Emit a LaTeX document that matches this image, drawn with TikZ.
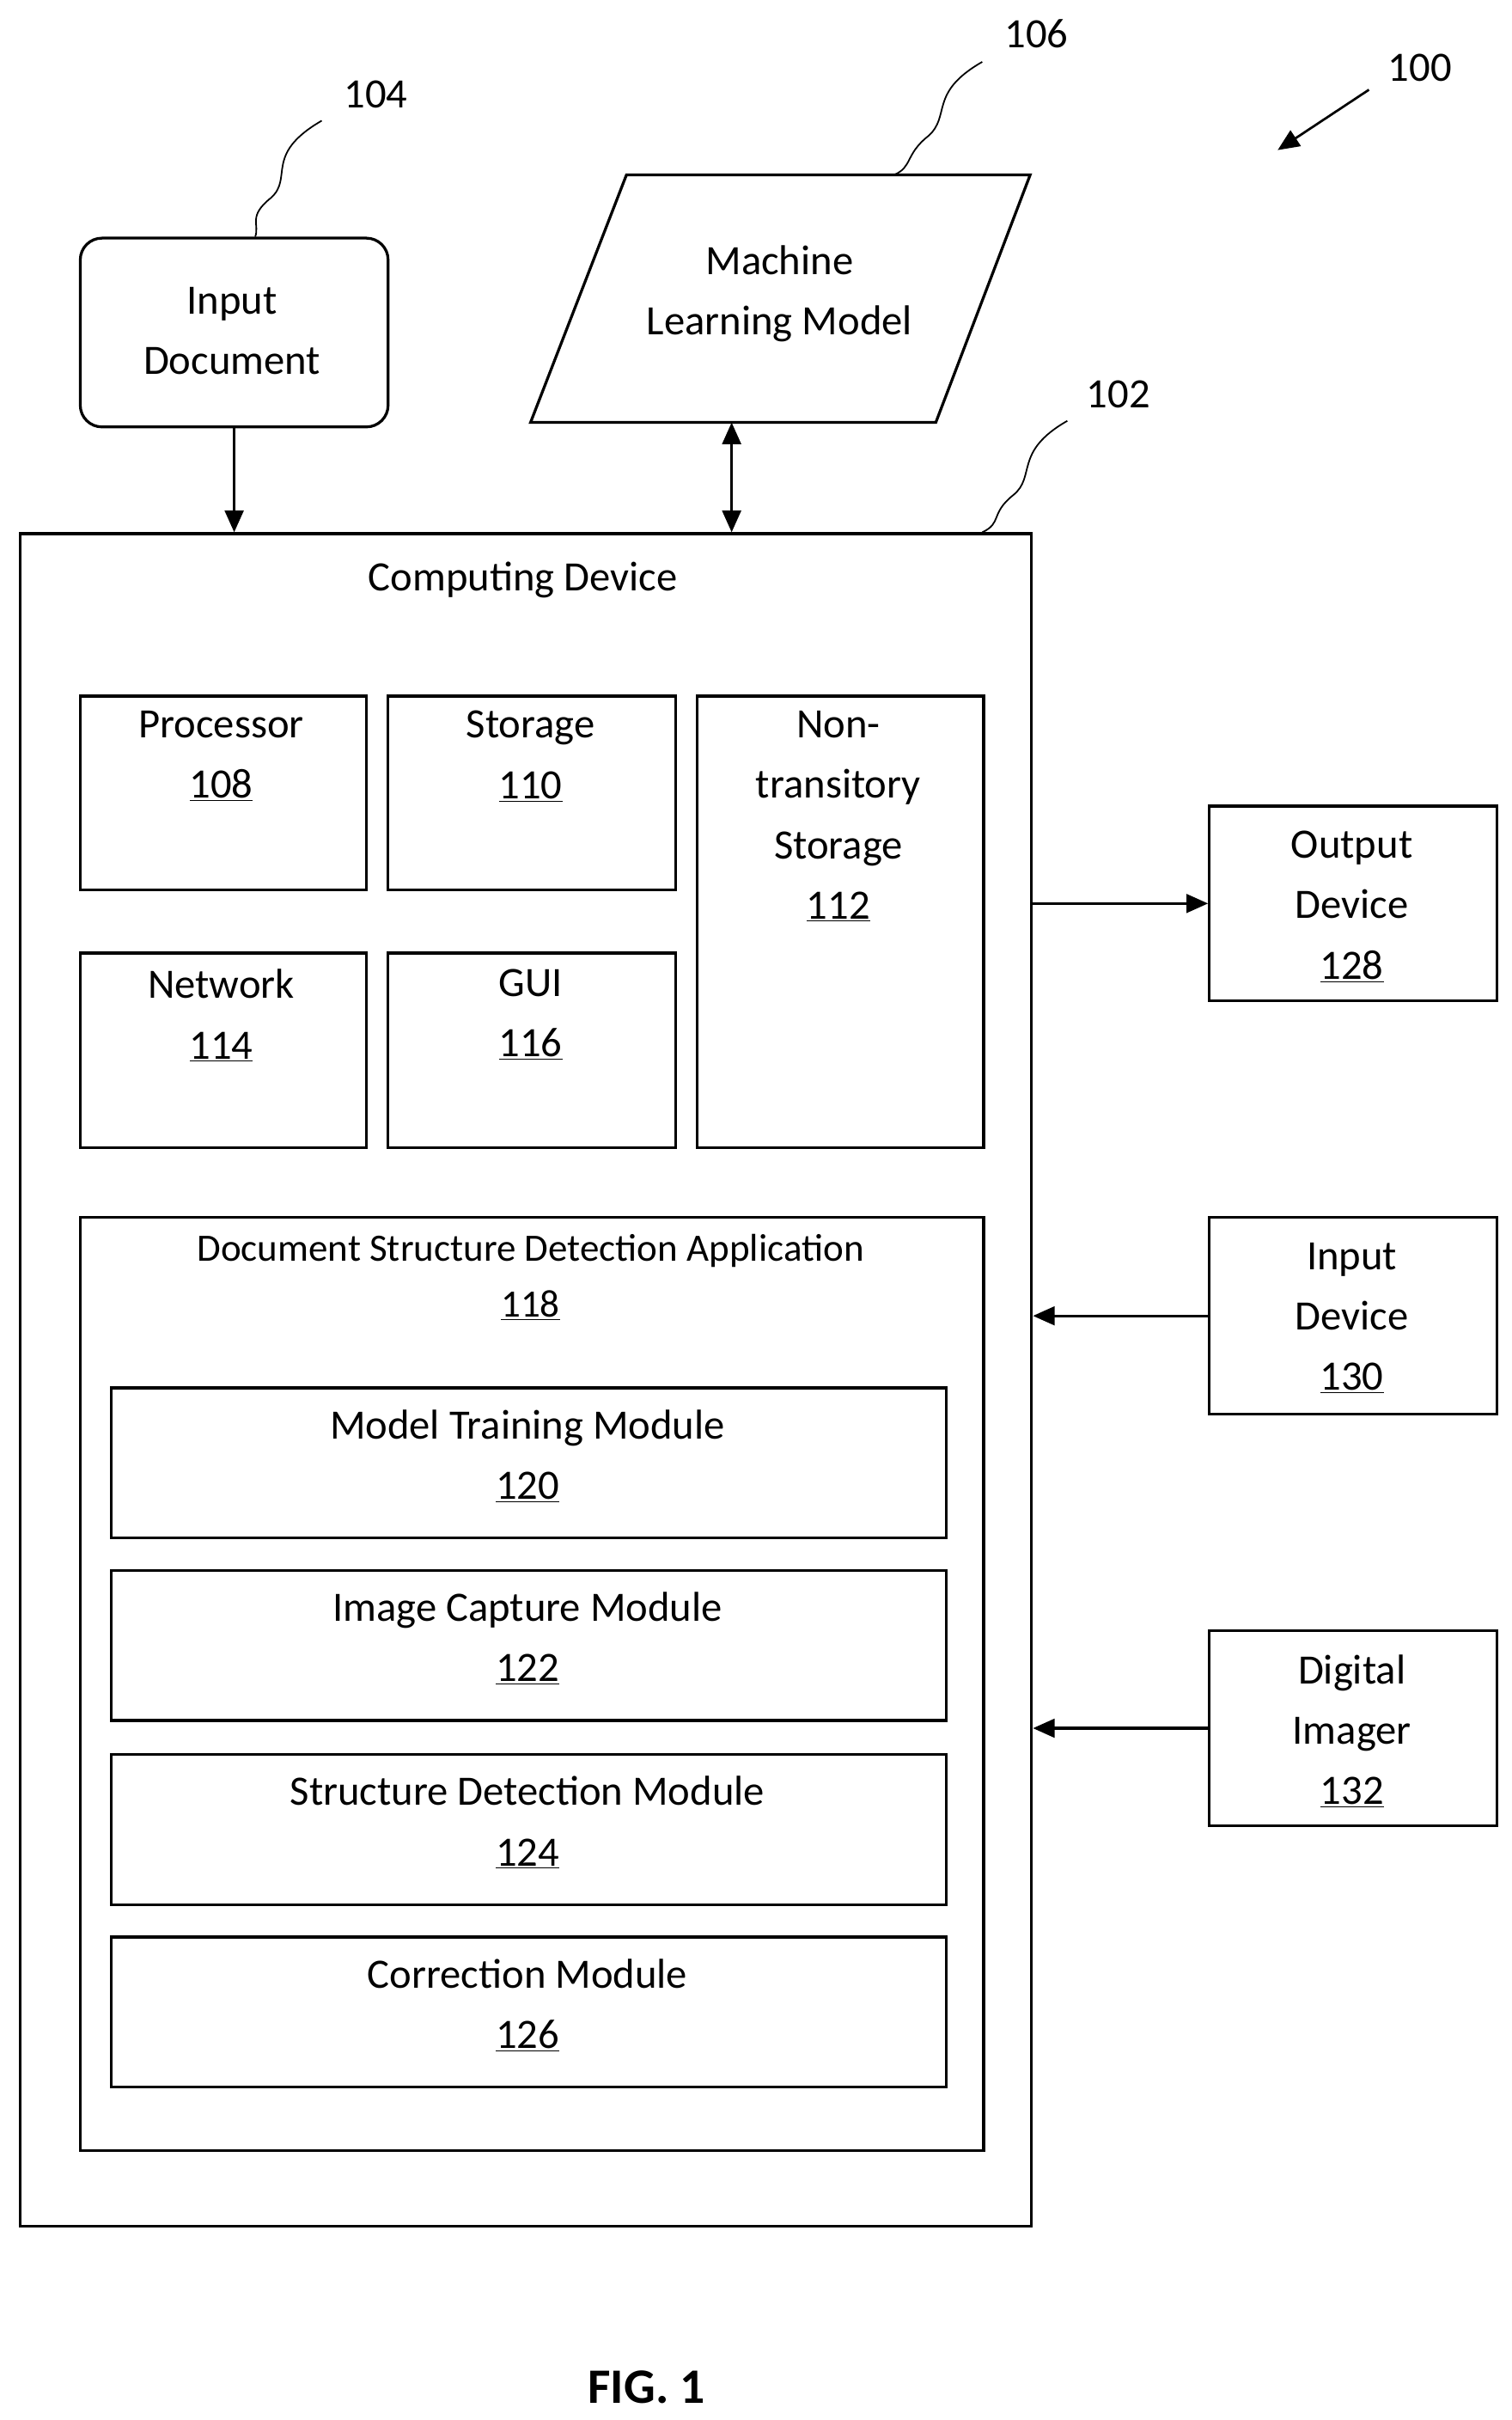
\documentclass[tikz,border=0pt]{standalone}
\usepackage{fontspec}
\setmainfont{Carlito}
\usetikzlibrary{arrows.meta,shapes.geometric}
\begin{document}
\begin{tikzpicture}[x=1pt,y=-1pt,
  box/.style={draw,line width=1.8pt,inner sep=0pt,anchor=north west},
  txt/.style={align=center,font=\fontsize{27}{39}\selectfont},
  arr/.style={line width=1.8pt,-{Triangle[length=14pt,width=12pt]}},
  lead/.style={line width=1pt}]
\useasboundingbox (0,0) rectangle (977,1564);
% input document
\node[box,rounded corners=14pt,minimum width=199pt,minimum height=122pt] (indoc) at (51,153) {};
\node[txt] (indoct) at (150,214) {Input\\Document};
% ML model
\coordinate (ml1) at (405,113); \coordinate (ml2) at (666,113);
\coordinate (ml3) at (605,273); \coordinate (ml4) at (343,273);
\draw[line width=1.8pt] (ml1)--(ml2)--(ml3)--(ml4)--cycle;
\node[txt] (mlt) at (504,190) {Machine\\Learning Model};
% computing device
\node[box,minimum width=654pt,minimum height=1094pt] (cd) at (12,344) {};
\node[txt] (cdt) at (338,375) {Computing Device};
\node[box,minimum width=185pt,minimum height=125pt] (p) at (51,449) {};
\node[txt,anchor=north] at (143,456) {Processor\\\underline{108}};
\node[box,minimum width=186pt,minimum height=125pt] (s) at (250,449) {};
\node[txt,anchor=north] at (343,456) {Storage\\\underline{110}};
\node[box,minimum width=185pt,minimum height=292pt] (nt) at (450,449) {};
\node[txt,anchor=north] at (542,456) {Non-\\transitory\\Storage\\\underline{112}};
\node[box,minimum width=185pt,minimum height=126pt] (n) at (51,615) {};
\node[txt,anchor=north] at (143,623) {Network\\\underline{114}};
\node[box,minimum width=186pt,minimum height=126pt] (g) at (250,615) {};
\node[txt,anchor=north] at (343,623) {GUI\\\underline{116}};
\node[box,minimum width=584pt,minimum height=603pt] (app) at (51,786) {};
\node[txt,anchor=north,font=\fontsize{25}{36}\selectfont] at (343,794) {Document Structure Detection Application\\\underline{118}};
\node[box,minimum width=540pt,minimum height=97pt] (m1) at (71,896) {};
\node[txt] at (341,941) {Model Training Module\\\underline{120}};
\node[box,minimum width=540pt,minimum height=97pt] (m2) at (71,1014) {};
\node[txt] at (341,1059) {Image Capture Module\\\underline{122}};
\node[box,minimum width=540pt,minimum height=97pt] (m3) at (71,1133) {};
\node[txt] at (341,1178) {Structure Detection Module\\\underline{124}};
\node[box,minimum width=540pt,minimum height=97pt] (m4) at (71,1251) {};
\node[txt] at (341,1296) {Correction Module\\\underline{126}};
% right devices
\node[box,minimum width=186pt,minimum height=126pt] (od) at (781,520) {};
\node[txt] at (874,586) {Output\\Device\\\underline{128}};
\node[box,minimum width=186pt,minimum height=127pt] (id) at (781,786) {};
\node[txt] at (874,852) {Input\\Device\\\underline{130}};
\node[box,minimum width=186pt,minimum height=126pt] (di) at (781,1053) {};
\node[txt] at (874,1119) {Digital\\Imager\\\underline{132}};
% arrows
\draw[arr] (indoc.south) -- (indoc.south |- cd.north);
\coordinate (mlb) at (473,273);
\draw[arr,{Triangle[length=14pt,width=12pt]}-{Triangle[length=14pt,width=12pt]}] (mlb) -- (mlb |- cd.north);
\draw[arr] (cd.east |- od.west) -- (od.west);
\draw[arr] (id.west) -- (cd.east |- id.west);
\draw[arr] (di.west) -- (cd.east |- di.west);
% reference labels
\node[txt] (l104) at (243,61) {104};
\draw[lead] (208,78) .. controls (170,100) and (190,115) .. (175,128) .. controls (160,140) and (168,145) .. (165,153);
\node[txt] (l106) at (670,22) {106};
\draw[lead] (635,40) .. controls (600,60) and (615,75) .. (600,88) .. controls (585,100) and (590,108) .. (578,113);
\node[txt] (l102) at (723,255) {102};
\draw[lead] (690,272) .. controls (655,292) and (670,308) .. (655,320) .. controls (640,332) and (648,338) .. (635,344);
\node[txt] (l100) at (918,44) {100};
\draw[arr,line width=1.5pt] (885,58) -- (826,97);
\node[txt,font=\fontsize{32}{38}\selectfont\bfseries] (fig) at (418,1543) {FIG. 1};
\end{tikzpicture}
\end{document}
